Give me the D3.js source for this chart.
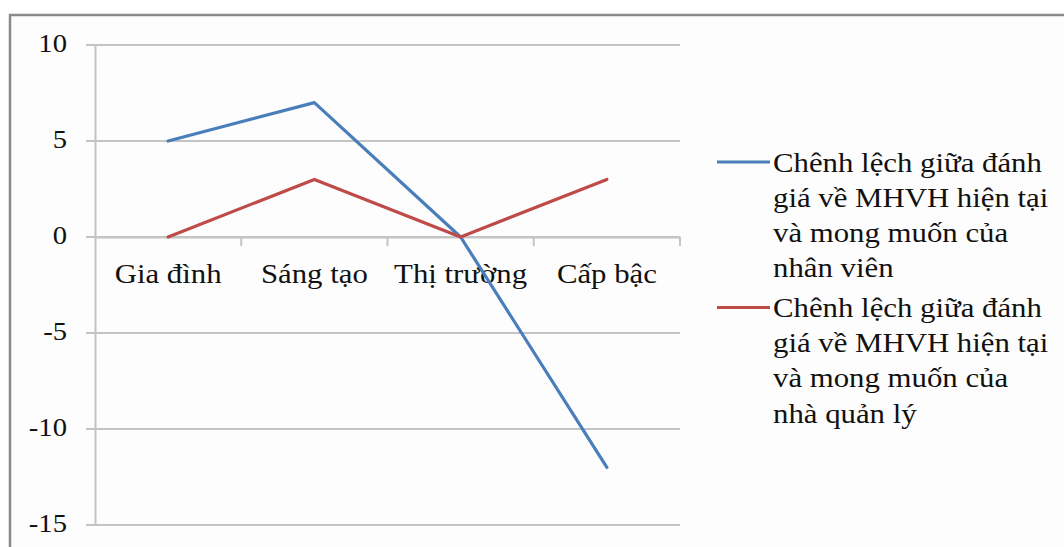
<!DOCTYPE html>
<html>
<head>
<meta charset="utf-8">
<script src="https://cdn.jsdelivr.net/npm/d3@7"></script>
<style>
  html, body { margin: 0; padding: 0; background: #ffffff; }
  svg { display: block; }
  .lbl { font-family: "Liberation Serif", "Times New Roman", "DejaVu Serif", serif; fill: #111111; }
</style>
</head>
<body>
<svg id="chart" width="1064" height="547"></svg>
<script>
// Categories and series
const categories = ["Gia đình", "Sáng tạo", "Thị trường", "Cấp bậc"];
const nhanVien = [5, 7, 0, -12];
const quanLy = [0, 3, 0, 3];
const yTicks = [10, 5, 0, -5, -10, -15];
const legendLabels = [
  ["Chênh lệch giữa đánh", "giá về MHVH hiện tại", "và mong muốn của", "nhân viên"],
  ["Chênh lệch giữa đánh", "giá về MHVH hiện tại", "và mong muốn của", "nhà quản lý"]
];

const series = [
  { values: nhanVien, color: "#4a7ebb", labels: legendLabels[0] },
  { values: quanLy, color: "#be4b48", labels: legendLabels[1] }
];

// Text is set slightly wide, as in the original document layout
const stretch = 1.1;

const svg = d3.select("#chart");

// Outer chart frame
svg.append("rect")
  .attr("x", 10).attr("y", 15)
  .attr("width", 1070).attr("height", 560)
  .attr("fill", "#fdfdfd")
  .attr("stroke", "#8a8a8a").attr("stroke-width", 2.5);

const plot = { left: 95, right: 680, top: 45, bottom: 525 };

const x = d3.scaleBand().domain(categories).range([plot.left, plot.right]);
const y = d3.scaleLinear().domain([-15, 10]).range([plot.bottom, plot.top]);

// Horizontal gridlines
svg.append("g")
  .selectAll("line")
  .data(yTicks)
  .join("line")
  .attr("x1", plot.left - 9).attr("x2", plot.right)
  .attr("y1", d => y(d)).attr("y2", d => y(d))
  .attr("stroke", "#c4c4c4").attr("stroke-width", 2);

// Value axis
const yAxis = svg.append("g")
  .attr("transform", `translate(${plot.left},0)`)
  .call(d3.axisLeft(y).tickValues(yTicks).tickSize(0).tickPadding(25.5).tickFormat(d => String(d)));
yAxis.attr("font-family", null).attr("font-size", null);
yAxis.select(".domain").attr("stroke", "#c4c4c4").attr("stroke-width", 2);
yAxis.selectAll("text")
  .attr("class", "lbl").attr("fill", null)
  .attr("dy", "0.25em")
  .attr("transform", `scale(${stretch},1)`)
  .style("font-size", "26px");

// Category axis at zero
const xAxis = svg.append("g")
  .attr("transform", `translate(0,${y(0)})`)
  .call(d3.axisBottom(x).tickSize(0).tickPadding(26));
xAxis.attr("font-family", null).attr("font-size", null);
xAxis.select(".domain").attr("stroke", "#c4c4c4").attr("stroke-width", 2);
xAxis.selectAll("text")
  .attr("class", "lbl").attr("fill", null)
  .attr("transform", `scale(${stretch},1)`)
  .style("font-size", "28px");

// Tick marks on category boundaries
const boundaries = categories.map(c => x(c)).concat([x(categories[categories.length - 1]) + x.bandwidth()]);
svg.append("g")
  .selectAll("line")
  .data(boundaries.slice(1))
  .join("line")
  .attr("x1", d => d).attr("x2", d => d)
  .attr("y1", y(0)).attr("y2", y(0) + 9)
  .attr("stroke", "#c4c4c4").attr("stroke-width", 2);

// Series lines
const line = d3.line()
  .x((d, i) => x(categories[i]) + x.bandwidth() / 2)
  .y(d => y(d));

svg.append("g")
  .selectAll("path")
  .data(series)
  .join("path")
  .attr("d", d => line(d.values))
  .attr("fill", "none")
  .attr("stroke", d => d.color)
  .attr("stroke-width", 3.2)
  .attr("stroke-linejoin", "round")
  .attr("stroke-linecap", "round");

// Legend
const legend = svg.append("g");
const legendTop = [162, 307.5];
const lineGap = 35.2;
series.forEach((s, si) => {
  const g = legend.append("g");
  g.append("line")
    .attr("x1", 717).attr("x2", 770)
    .attr("y1", legendTop[si]).attr("y2", legendTop[si])
    .attr("stroke", s.color).attr("stroke-width", 3.2);
  g.selectAll("g.row")
    .data(s.labels)
    .join("g")
    .attr("class", "row")
    .attr("transform", (d, i) => `translate(773,${legendTop[si] + 9.5 + i * lineGap}) scale(${stretch},1)`)
    .append("text")
    .attr("class", "lbl")
    .style("font-size", "28px")
    .text(d => d);
});
</script>
</body>
</html>
